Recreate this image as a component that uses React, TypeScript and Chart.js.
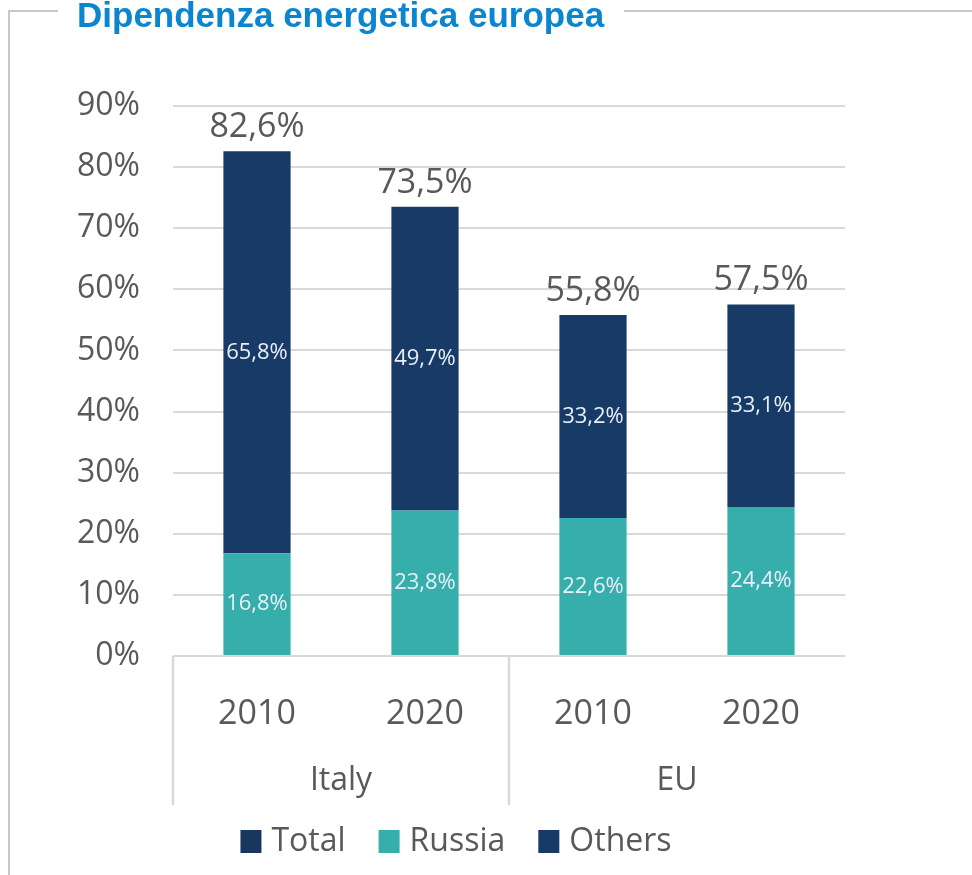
import React, { useEffect, useRef } from "react";
import { Chart, registerables } from "chart.js";

Chart.register(...registerables);

// ---- data ----
const groups = ["Italy", "EU"];
const years = ["2010", "2020", "2010", "2020"];
const groupOf = [0, 0, 1, 1];
const russia = [16.8, 23.8, 22.6, 24.4];
const others = [65.8, 49.7, 33.2, 33.1];
const total = [82.6, 73.5, 55.8, 57.5];
const seriesNames = ["Total", "Russia", "Others"];
const yMin = 0;
const yMax = 90;
const yStep = 10;

// ---- styles ----
const NAVY = "#173b66";
const NAVY_DARK = "#17375e";
const TEAL = "#35aeac";
const GRAY_TEXT = "#595959";
const GRID = "#d9d9d9";
const FONT = "'Open Sans', sans-serif";

const fmt = (v: number) => v.toFixed(1).replace(".", ",") + "%";

const overlayPlugin = {
  id: "overlay",
  afterDatasetsDraw(chart: any) {
    const ctx = chart.ctx;
    const area = chart.chartArea;
    ctx.save();
    // segment labels
    [1, 2].forEach((di) => {
      const meta = chart.getDatasetMeta(di);
      const ds = chart.data.datasets[di];
      meta.data.forEach((el: any, i: number) => {
        const cy = (el.y + el.base) / 2;
        ctx.fillStyle = "#e8eff6";
        ctx.font = `22px ${FONT}`;
        ctx.textAlign = "center";
        ctx.textBaseline = "middle";
        ctx.fillText(fmt(ds.data[i]), el.x, cy);
      });
    });
    // total labels
    const tMeta = chart.getDatasetMeta(0);
    tMeta.data.forEach((pt: any, i: number) => {
      ctx.fillStyle = GRAY_TEXT;
      ctx.font = `34px ${FONT}`;
      ctx.textAlign = "center";
      ctx.textBaseline = "middle";
      ctx.fillText(fmt(total[i]), pt.x, pt.y - 24);
    });

    // group separators and labels
    const xs = chart.scales.x;
    const bottom = area.bottom;
    const sepBottom = bottom + 149;
    const bounds: number[] = [area.left];
    for (let g = 0; g < groups.length; g++) {
      const idx = groupOf.map((v, i) => (v === g ? i : -1)).filter((i) => i >= 0);
      const last = idx[idx.length - 1];
      const right =
        last < years.length - 1
          ? (xs.getPixelForValue(last) + xs.getPixelForValue(last + 1)) / 2
          : area.right;
      bounds.push(right);
    }
    ctx.strokeStyle = GRID;
    ctx.lineWidth = 2.5;
    for (let b = 0; b < bounds.length - 1; b++) {
      ctx.beginPath();
      ctx.moveTo(bounds[b], bottom);
      ctx.lineTo(bounds[b], sepBottom);
      ctx.stroke();
    }
    ctx.fillStyle = GRAY_TEXT;
    ctx.font = `32px ${FONT}`;
    ctx.textAlign = "center";
    ctx.textBaseline = "middle";
    groups.forEach((g, gi) => {
      ctx.fillText(g, (bounds[gi] + bounds[gi + 1]) / 2, bottom + 125);
    });

    // legend
    const colors = [NAVY_DARK, TEAL, NAVY];
    ctx.font = `32px ${FONT}`;
    const box = 21;
    const gap = 10;
    const spacing = 33;
    const widths = seriesNames.map((n) => box + gap + ctx.measureText(n).width);
    const totalW = widths.reduce((a, b) => a + b, 0) + spacing * (seriesNames.length - 1);
    let x = 456 - totalW / 2;
    const ly = bottom + 185;
    seriesNames.forEach((n, i) => {
      ctx.fillStyle = colors[i];
      ctx.fillRect(x, ly - 11, box, 23);
      ctx.fillStyle = GRAY_TEXT;
      ctx.textAlign = "left";
      ctx.textBaseline = "middle";
      ctx.fillText(n, x + box + gap, ly + 1);
      x += widths[i] + spacing;
    });
    ctx.restore();
  },
};

export default function App() {
  const ref = useRef<HTMLCanvasElement | null>(null);

  useEffect(() => {
    if (!ref.current) return;
    const chart = new Chart(ref.current, {
      type: "bar",
      data: {
        labels: years,
        datasets: [
          {
            type: "line",
            label: seriesNames[0],
            data: total,
            showLine: false,
            pointRadius: 0,
            pointHoverRadius: 0,
            borderColor: NAVY_DARK,
            backgroundColor: NAVY_DARK,
          } as any,
          {
            label: seriesNames[1],
            data: russia,
            backgroundColor: TEAL,
            barPercentage: 0.4,
            categoryPercentage: 1,
          },
          {
            label: seriesNames[2],
            data: others,
            backgroundColor: NAVY,
            barPercentage: 0.4,
            categoryPercentage: 1,
          },
        ],
      },
      options: {
        responsive: false,
        animation: false,
        events: [],
        layout: { padding: { top: 106, right: 127, left: 0, bottom: 0 } },
        plugins: { legend: { display: false }, tooltip: { enabled: false } },
        scales: {
          x: {
            stacked: true,
            grid: { display: false },
            border: { display: false },
            ticks: {
              font: { family: FONT, size: 34 },
              color: GRAY_TEXT,
              padding: 30,
              maxRotation: 0,
            },
            afterFit: (s: any) => {
              s.height = 219;
            },
          },
          y: {
            stacked: true,
            min: yMin,
            max: yMax,
            ticks: {
              stepSize: yStep,
              callback: (v: any) => v + "%",
              font: { family: FONT, size: 32 },
              color: GRAY_TEXT,
              padding: 33,
            },
            grid: { color: GRID, lineWidth: 2, drawTicks: false },
            border: { display: false },
            afterFit: (s: any) => {
              s.width = 173;
            },
          },
        },
      },
      plugins: [overlayPlugin],
    });
    return () => chart.destroy();
  }, []);

  return (
    <div
      style={{
        position: "absolute",
        left: 0,
        top: 0,
        width: 972,
        height: 875,
        overflow: "hidden",
        background: "#fff",
      }}
    >
      <div
        style={{
          position: "absolute",
          left: 8,
          top: 10,
          width: 980,
          height: 900,
          borderTop: "2px solid #c8c8c8",
          borderLeft: "2px solid #c8c8c8",
        }}
      />
      <div
        style={{
          position: "absolute",
          left: 58,
          top: -3,
          padding: "0 20px 0 19px",
          background: "#fff",
          fontFamily: "'Liberation Sans', Arial, sans-serif",
          fontWeight: "bold",
          fontSize: 35,
          lineHeight: "35px",
          color: "#0a85d0",
          whiteSpace: "nowrap",
          zIndex: 2,
        }}
      >
        Dipendenza energetica europea
      </div>
      <canvas
        ref={ref}
        width={972}
        height={875}
        style={{ position: "absolute", left: 0, top: 0, width: 972, height: 875 }}
      />
    </div>
  );
}
